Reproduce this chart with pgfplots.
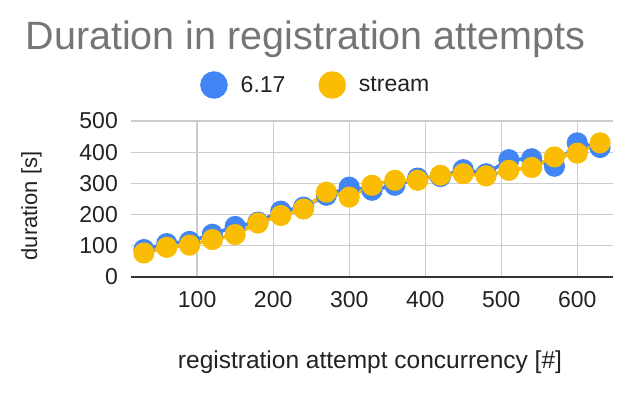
\documentclass[border=0pt]{standalone}
\usepackage{fontspec}
\setmainfont{Liberation Sans}
\usepackage{pgfplots}
\pgfplotsset{compat=1.18}
\definecolor{cblue}{HTML}{4285F4}
\definecolor{cyel}{HTML}{FBBC04}
\definecolor{cgrid}{HTML}{CCCCCC}
\definecolor{ctitle}{HTML}{757575}
\definecolor{ctext}{HTML}{222222}
\definecolor{cbase}{HTML}{333333}
\pgfplotsset{base/.style={scale only axis, width=482pt, height=156pt,
  xmin=13, xmax=647, ymin=0, ymax=500,
  xtick={100,200,...,600}, ytick={0,100,...,500},
  grid=major, major grid style={cgrid, line width=1.3pt},
  axis line style={draw=none}, major tick length=0pt,
  tick label style={font=\fontsize{23}{23}\selectfont, text=ctext, inner sep=0pt},
  /pgf/number format/assume math mode=true,
  xticklabel style={anchor=base, yshift=-30pt},
  yticklabel style={anchor=east, xshift=-13pt},
  extra y ticks={0}, extra y tick labels={},
  extra y tick style={major grid style={cbase, line width=1.8pt}},
  clip=false},
  leg/.style={legend columns=2,
  legend style={at={(axis description cs:0.1432,1.2308)}, anchor=west,
    draw=none, fill=none, inner sep=0pt,
    font=\fontsize{23}{23}\selectfont, text=ctext,
    nodes={inner sep=0pt},
    /tikz/every odd column/.append style={column sep=13pt},
    /tikz/every even column/.append style={column sep=33pt}}},
  pb/.style={cblue, line width=3.5pt, mark=*, mark size=8.8pt, mark options={draw=none, fill=cblue},
  legend image code/.code={\fill[cblue] (12pt,0pt) circle (12pt);}},
  py/.style={cyel, line width=3.5pt, mark=*, mark size=8.8pt, mark options={draw=none, fill=cyel},
  legend image code/.code={\fill[cyel] (12pt,0pt) circle (12pt);}}}
\begin{document}
\begin{tikzpicture}
\path[use as bounding box] (0pt,0pt) rectangle (632pt,392pt);
\begin{axis}[base, leg, at={(131pt,115pt)}, anchor=south west]
\draw[cgrid, line width=1.3pt] (axis cs:100,0) -- (axis cs:100,500);
\draw[cgrid, line width=1.3pt] (axis cs:200,0) -- (axis cs:200,500);
\draw[cgrid, line width=1.3pt] (axis cs:300,0) -- (axis cs:300,500);
\draw[cgrid, line width=1.3pt] (axis cs:400,0) -- (axis cs:400,500);
\draw[cgrid, line width=1.3pt] (axis cs:500,0) -- (axis cs:500,500);
\draw[cgrid, line width=1.3pt] (axis cs:600,0) -- (axis cs:600,500);
\draw[cgrid, line width=1.3pt] (axis cs:13,100) -- (axis cs:647,100);
\draw[cgrid, line width=1.3pt] (axis cs:13,200) -- (axis cs:647,200);
\draw[cgrid, line width=1.3pt] (axis cs:13,300) -- (axis cs:647,300);
\draw[cgrid, line width=1.3pt] (axis cs:13,400) -- (axis cs:647,400);
\draw[cgrid, line width=1.3pt] (axis cs:13,500) -- (axis cs:647,500);
\draw[cbase, line width=1.8pt] (axis cs:13,0) -- (axis cs:647,0);
\addplot[pb] table {
x y
30 88
60 107
90 114
120 137
150 162
180 176
210 211
240 224
270 262
300 288
330 278
360 294
390 317
420 322
450 344
480 331
510 376
540 379
570 355
600 430
630 415
};
\addlegendentry{6.17}
\addplot[py] table {
x y
30 77
60 95
90 102
120 120
150 136
180 173
210 197
240 218
270 272
300 256
330 294
360 310
390 310
420 326
450 331
480 324
510 342
540 351
570 385
600 397
630 430
};
\addlegendentry{stream}
\end{axis}
\node[anchor=base west, font=\fontsize{39.5}{39.5}\selectfont, text=ctitle] at (22pt,342.7pt) {Duration in registration attempts};
\node[rotate=90, anchor=base, font=\fontsize{22}{22}\selectfont, text=ctext] at (37pt,186pt) {duration [s]};
\node[anchor=base, font=\fontsize{24.5}{24.5}\selectfont, text=ctext] at (370pt,24pt) {registration attempt concurrency [\#]};
\end{tikzpicture}
\end{document}
